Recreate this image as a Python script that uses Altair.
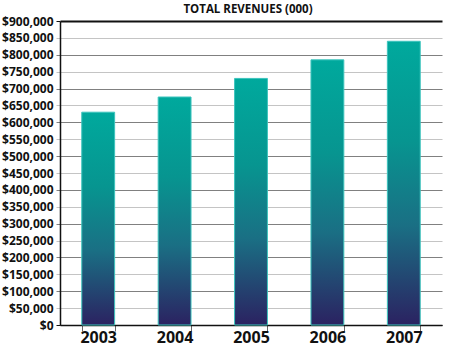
import altair as alt
import pandas as pd

years = ["2003", "2004", "2005", "2006", "2007"]
revenues = [630000, 675000, 730000, 785000, 840000]
y_ticks = list(range(0, 900001, 50000))

df = pd.DataFrame({"year": years, "revenue": revenues})

gradient = {
    "x1": 0, "y1": 0, "x2": 0, "y2": 1,
    "gradient": "linear",
    "stops": [
        {"offset": 0.0, "color": "#00a99d"},
        {"offset": 0.35, "color": "#079590"},
        {"offset": 0.65, "color": "#1a6f84"},
        {"offset": 1.0, "color": "#2b2261"},
    ],
}

grid_color = {
    "condition": [
        {"test": "datum.value >= 900000 || datum.value == 0", "value": "#111111"},
        {"test": "datum.value % 100000 === 0", "value": "#808080"},
    ],
    "value": "#c4c4c4",
}
grid_width = {
    "condition": {"test": "datum.value >= 900000", "value": 1.8},
    "value": 1.2,
}

FONT = "Open Sans"

chart = (
    alt.Chart(df)
    .mark_bar(fill=gradient, stroke="#3cc4bd", strokeWidth=1)
    .encode(
        x=alt.X(
            "year:N",
            sort=years,
            scale=alt.Scale(paddingInner=0.57, paddingOuter=0.285),
            axis=alt.Axis(
                title=None,
                labelAngle=0,
                labelFont=FONT,
                labelFontWeight="bold",
                labelFontSize=16,
                labelColor="#111111",
                labelPadding=-2,
                tickBand="extent",
                tickSize=6,
                tickColor="#666666",
                domainColor="#111111",
                domainWidth=1.5,
                grid=False,
            ),
        ),
        y=alt.Y(
            "revenue:Q",
            scale=alt.Scale(domain=[0, 900000], nice=False),
            axis=alt.Axis(
                title=None,
                values=y_ticks,
                format="$,.0f",
                labelFont=FONT,
                labelFontWeight="bold",
                labelFontSize=12,
                labelColor="#111111",
                labelPadding=3,
                tickSize=4,
                tickColor=grid_color,
                gridColor=grid_color,
                gridWidth=grid_width,
                gridOpacity=1,
                domainColor="#111111",
                domainWidth=1.5,
            ),
        ),
    )
    .properties(
        width=382,
        height=304,
        title=alt.TitleParams(
            "TOTAL REVENUES (000)",
            font=FONT,
            fontSize=11.5,
            fontWeight="bold",
            color="#111111",
            anchor="middle",
            offset=0,
            dx=-3,
        ),
        autosize=alt.AutoSizeParams(type="none"),
        padding={"left": 60, "top": 21, "right": 8, "bottom": 23},
    )
    .configure_view(stroke=None)
)

chart.save("out.html", embed_options={"renderer": "svg", "actions": False})
